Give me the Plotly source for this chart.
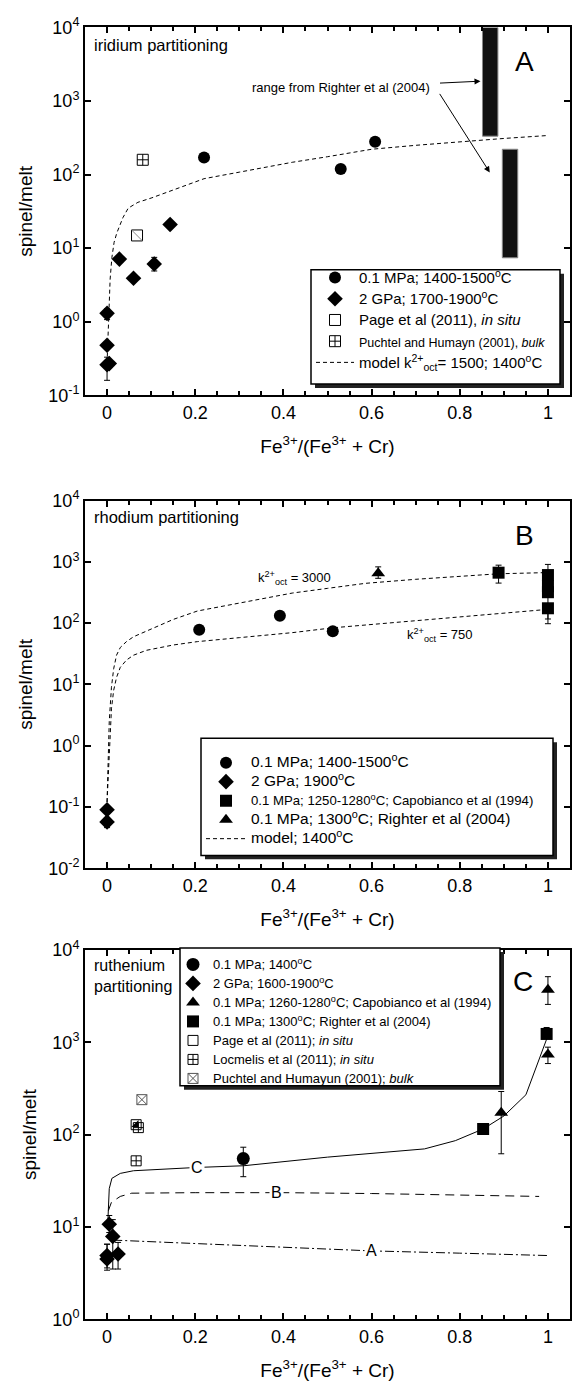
import plotly.graph_objects as go

FONT = "Liberation Sans, Arial, Helvetica, sans-serif"

# ---------------- tick labels ----------------
x_tickvals = [0, 0.2, 0.4, 0.6, 0.8, 1]
x_ticktext = ["0", "0.2", "0.4", "0.6", "0.8", "1"]
yA_tickvals = [0.1, 1, 10, 100, 1000, 10000]
yA_ticktext = ["10<sup>-1</sup>", "10<sup>0</sup>", "10<sup>1</sup>", "10<sup>2</sup>", "10<sup>3</sup>", "10<sup>4</sup>"]
yB_tickvals = [0.01, 0.1, 1, 10, 100, 1000, 10000]
yB_ticktext = ["10<sup>-2</sup>", "10<sup>-1</sup>", "10<sup>0</sup>", "10<sup>1</sup>", "10<sup>2</sup>", "10<sup>3</sup>", "10<sup>4</sup>"]
yC_tickvals = [1, 10, 100, 1000, 10000]
yC_ticktext = ["10<sup>0</sup>", "10<sup>1</sup>", "10<sup>2</sup>", "10<sup>3</sup>", "10<sup>4</sup>"]

# ---------------- Panel A : iridium ----------------
ir_circle_x = [0.22, 0.53, 0.608]
ir_circle_y = [171, 119, 280]

ir_diamond_x = [0.0, 0.0, 0.0, 0.005, 0.028, 0.06, 0.107, 0.143]
ir_diamond_y = [1.3, 0.48, 0.26, 0.27, 7.1, 3.9, 6.1, 21]
ir_diamond_eplus = [0.2, 0, 0.07, 0, 0, 0, 1.4, 0]
ir_diamond_eminus = [0.23, 0, 0.1, 0, 0, 0, 1.2, 0]

ir_page_x = [0.068]
ir_page_y = [14.9]
ir_puchtel_x = [0.081]
ir_puchtel_y = [159]

ir_range_x = [0.869, 0.914]
ir_range_low = [333, 7.4]
ir_range_high = [10000, 221]

ir_model_x = [0.0, 0.002, 0.004, 0.007, 0.011, 0.016, 0.022, 0.036, 0.048, 0.07, 0.1, 0.15, 0.22,
              0.3, 0.42, 0.5, 0.6, 0.7, 0.82, 0.9, 1.0]
ir_model_y = [0.27, 0.7, 1.6, 3.8, 7.5, 12, 16, 26, 35, 42, 48, 62, 88,
              108, 147, 175, 221, 250, 286, 310, 340]

# ---------------- Panel B : rhodium ----------------
rh_circle_x = [0.209, 0.392, 0.512]
rh_circle_y = [78, 132, 74]

rh_diamond_x = [0.0, 0.0]
rh_diamond_y = [0.09, 0.057]
rh_diamond_eplus = [0, 0.006]
rh_diamond_eminus = [0, 0.011]

rh_square_x = [0.888, 1.0, 1.0, 1.0, 1.0]
rh_square_y = [667, 610, 400, 320, 175]
rh_square_eplus = [218, 300, 0, 0, 0]
rh_square_eminus = [216, 0, 0, 222, 58]

rh_tri_x = [0.615]
rh_tri_y = [652]
rh_tri_eplus = [178]
rh_tri_eminus = [112]

rh_model_hi_x = [0.0, 0.002, 0.005, 0.01, 0.015, 0.0215, 0.03, 0.044, 0.06, 0.089, 0.15, 0.205,
                 0.3, 0.42, 0.5, 0.586, 0.7, 0.8, 0.888, 1.0]
rh_model_hi_y = [0.12, 0.5, 2.5, 9, 18, 30, 40, 50, 60, 74, 115, 158,
                 215, 310, 370, 447, 520, 585, 640, 670]
rh_model_lo_x = [0.0, 0.003, 0.006, 0.01, 0.015, 0.0215, 0.03, 0.044, 0.06, 0.089, 0.15, 0.205,
                 0.3, 0.42, 0.512, 0.6, 0.7, 0.8, 0.9, 1.0]
rh_model_lo_y = [0.12, 0.4, 1.5, 4, 8, 13, 19, 25, 30, 36, 44, 50,
                 58, 70, 84, 95, 108, 125, 145, 168]

# ---------------- Panel C : ruthenium ----------------
ru_circle_x = [0.309]
ru_circle_y = [55]
ru_circle_eplus = [18]
ru_circle_eminus = [20]

ru_diamond_x = [0.005, 0.013, 0.0, 0.0, 0.025]
ru_diamond_y = [10.7, 7.9, 4.5, 4.9, 5.1]
ru_diamond_eplus = [2.6, 4.1, 2.0, 1.6, 1.7]
ru_diamond_eminus = [2.0, 4.4, 1.1, 1.3, 1.6]

ru_tri_x = [1.0, 1.0, 0.894]
ru_tri_y = [3710, 735, 172]
ru_tri_eplus = [1420, 150, 121]
ru_tri_eminus = [1140, 147, 110]

ru_square_x = [0.853, 0.997]
ru_square_y = [115, 1230]
ru_square_eplus = [0, 215]
ru_square_eminus = [0, 0]

ru_page_x = [0.066]
ru_page_y = [128]
ru_locmelis_x = [0.071, 0.066]
ru_locmelis_y = [119, 52]
ru_puchtel_x = [0.079]
ru_puchtel_y = [239]

ru_modelC_x = [0.002, 0.003, 0.005, 0.011, 0.03, 0.06, 0.2, 0.31, 0.5, 0.72, 0.79, 0.853, 0.9, 0.95, 0.983, 1.0]
ru_modelC_y = [12, 17, 26, 33.6, 38, 40.6, 44, 46, 57, 70, 86, 115, 159, 270, 722, 1180]
ru_modelB_x = [0.003, 0.01, 0.03, 0.056, 0.2, 0.4, 0.6, 0.8, 0.98]
ru_modelB_y = [15, 18.5, 21.4, 23.2, 23.5, 23.5, 23, 22.3, 21.4]
ru_modelA_x = [0.014, 0.2, 0.4, 0.6, 0.8, 1.0]
ru_modelA_y = [7.2, 6.6, 6.0, 5.5, 5.2, 4.9]

# =====================================================
fig = go.Figure()
K = "black"


def err(plus, minus):
    return dict(type="data", symmetric=False, array=plus, arrayminus=minus,
                color=K, thickness=1, width=3)


def sz(text, px):
    return "<span style='font-size:%spx'>%s</span>" % (px, text)


# ---- Panel A traces ----
fig.add_trace(go.Bar(x=ir_range_x, y=[h - l for h, l in zip(ir_range_high, ir_range_low)],
                     base=ir_range_low, width=0.035, xaxis="x", yaxis="y", showlegend=False,
                     marker=dict(color="#111", line=dict(color="#888", width=1))))
fig.add_trace(go.Scatter(x=ir_model_x, y=ir_model_y, mode="lines", xaxis="x", yaxis="y",
                         line=dict(color=K, width=1, dash="4px,3px"), showlegend=False))
fig.add_trace(go.Scatter(x=ir_circle_x, y=ir_circle_y, mode="markers", xaxis="x", yaxis="y",
                         marker=dict(symbol="circle", size=12, color=K),
                         name=sz("0.1 MPa; 1400-1500<sup>o</sup>C", 15), legend="legend"))
fig.add_trace(go.Scatter(x=ir_diamond_x, y=ir_diamond_y, mode="markers", xaxis="x", yaxis="y",
                         marker=dict(symbol="diamond", size=12, color=K),
                         error_y=err(ir_diamond_eplus, ir_diamond_eminus),
                         name=sz("2 GPa; 1700-1900<sup>o</sup>C", 15), legend="legend"))
fig.add_trace(go.Scatter(x=ir_page_x, y=ir_page_y, mode="markers", xaxis="x", yaxis="y",
                         marker=dict(symbol="square-open", size=11, color=K, line=dict(width=1)),
                         name=sz("Page et al (2011), <i>in situ</i>", 15), legend="legend"))
fig.add_trace(go.Scatter(x=ir_page_x, y=ir_page_y, mode="markers", xaxis="x", yaxis="y",
                         marker=dict(symbol="line-nw", size=10, color="#888", line=dict(width=1, color="#888")),
                         showlegend=False))
fig.add_trace(go.Scatter(x=ir_puchtel_x, y=ir_puchtel_y, mode="markers", xaxis="x", yaxis="y",
                         marker=dict(symbol="square-cross-open", size=11, color=K, line=dict(width=1)),
                         name=sz("Puchtel and Humayn (2001), <i>bulk</i>", 12.5),
                         legend="legend"))
fig.add_trace(go.Scatter(x=[None], y=[None], mode="lines", xaxis="x", yaxis="y",
                         line=dict(color=K, width=1, dash="4px,3px"),
                         name=sz("model k<sup>2+</sup><sub>oct</sub>= 1500; 1400<sup>o</sup>C", 15), legend="legend"))

# ---- Panel B traces ----
fig.add_trace(go.Scatter(x=rh_model_hi_x, y=rh_model_hi_y, mode="lines", xaxis="x2", yaxis="y2",
                         line=dict(color=K, width=1, dash="4px,3px"), showlegend=False))
fig.add_trace(go.Scatter(x=rh_model_lo_x, y=rh_model_lo_y, mode="lines", xaxis="x2", yaxis="y2",
                         line=dict(color=K, width=1, dash="4px,3px"), showlegend=False))
fig.add_trace(go.Scatter(x=rh_circle_x, y=rh_circle_y, mode="markers", xaxis="x2", yaxis="y2",
                         marker=dict(symbol="circle", size=12, color=K),
                         name=sz("0.1 MPa; 1400-1500<sup>o</sup>C", 15.5), legend="legend2"))
fig.add_trace(go.Scatter(x=rh_diamond_x, y=rh_diamond_y, mode="markers", xaxis="x2", yaxis="y2",
                         marker=dict(symbol="diamond", size=12, color=K),
                         error_y=err(rh_diamond_eplus, rh_diamond_eminus),
                         name=sz("2 GPa; 1900<sup>o</sup>C", 15.5), legend="legend2"))
fig.add_trace(go.Scatter(x=rh_square_x, y=rh_square_y, mode="markers", xaxis="x2", yaxis="y2",
                         marker=dict(symbol="square", size=12, color=K),
                         error_y=err(rh_square_eplus, rh_square_eminus),
                         name=sz("0.1 MPa; 1250-1280<sup>o</sup>C; Capobianco et al (1994)", 13.2),
                         legend="legend2"))
fig.add_trace(go.Scatter(x=rh_tri_x, y=rh_tri_y, mode="markers", xaxis="x2", yaxis="y2",
                         marker=dict(symbol="triangle-up", size=12, color=K),
                         error_y=err(rh_tri_eplus, rh_tri_eminus),
                         name=sz("0.1 MPa; 1300<sup>o</sup>C; Righter et al (2004)", 15.5), legend="legend2"))
fig.add_trace(go.Scatter(x=[None], y=[None], mode="lines", xaxis="x2", yaxis="y2",
                         line=dict(color=K, width=1, dash="4px,3px"),
                         name=sz("model; 1400<sup>o</sup>C", 15.5), legend="legend2"))

# ---- Panel C traces ----
fig.add_trace(go.Scatter(x=ru_modelC_x, y=ru_modelC_y, mode="lines", xaxis="x3", yaxis="y3",
                         line=dict(color=K, width=1), showlegend=False))
fig.add_trace(go.Scatter(x=ru_modelB_x, y=ru_modelB_y, mode="lines", xaxis="x3", yaxis="y3",
                         line=dict(color=K, width=1, dash="9px,6px"), showlegend=False))
fig.add_trace(go.Scatter(x=ru_modelA_x, y=ru_modelA_y, mode="lines", xaxis="x3", yaxis="y3",
                         line=dict(color=K, width=1, dash="9px,3px,2px,3px"), showlegend=False))
fig.add_trace(go.Scatter(x=ru_circle_x, y=ru_circle_y, mode="markers", xaxis="x3", yaxis="y3",
                         marker=dict(symbol="circle", size=13, color=K),
                         error_y=err(ru_circle_eplus, ru_circle_eminus),
                         name=sz("0.1 MPa; 1400<sup>o</sup>C", 13), legend="legend3"))
fig.add_trace(go.Scatter(x=ru_diamond_x, y=ru_diamond_y, mode="markers", xaxis="x3", yaxis="y3",
                         marker=dict(symbol="diamond", size=12, color=K),
                         error_y=err(ru_diamond_eplus, ru_diamond_eminus),
                         name=sz("2 GPa; 1600-1900<sup>o</sup>C", 13), legend="legend3"))
fig.add_trace(go.Scatter(x=ru_tri_x, y=ru_tri_y, mode="markers", xaxis="x3", yaxis="y3",
                         marker=dict(symbol="triangle-up", size=12, color=K),
                         error_y=err(ru_tri_eplus, ru_tri_eminus),
                         name=sz("0.1 MPa; 1260-1280<sup>o</sup>C; Capobianco et al (1994)", 13), legend="legend3"))
fig.add_trace(go.Scatter(x=ru_square_x, y=ru_square_y, mode="markers", xaxis="x3", yaxis="y3",
                         marker=dict(symbol="square", size=12, color=K),
                         error_y=err(ru_square_eplus, ru_square_eminus),
                         name=sz("0.1 MPa; 1300<sup>o</sup>C; Righter et al (2004)", 13), legend="legend3"))
fig.add_trace(go.Scatter(x=ru_page_x, y=ru_page_y, mode="markers", xaxis="x3", yaxis="y3",
                         marker=dict(symbol="square-open", size=10, color=K, line=dict(width=1)),
                         name=sz("Page et al (2011); <i>in situ</i>", 13), legend="legend3"))
fig.add_trace(go.Scatter(x=ru_page_x, y=ru_page_y, mode="markers", xaxis="x3", yaxis="y3",
                         marker=dict(symbol="triangle-se", size=8, color=K, line=dict(width=0)),
                         showlegend=False))
fig.add_trace(go.Scatter(x=ru_locmelis_x, y=ru_locmelis_y, mode="markers", xaxis="x3", yaxis="y3",
                         marker=dict(symbol="square-cross-open", size=10, color=K, line=dict(width=1)),
                         name=sz("Locmelis et al (2011); <i>in situ</i>", 13), legend="legend3"))
fig.add_trace(go.Scatter(x=ru_puchtel_x, y=ru_puchtel_y, mode="markers", xaxis="x3", yaxis="y3",
                         marker=dict(symbol="square-x-open", size=10, color="#555", line=dict(width=1)),
                         name=sz("Puchtel and Humayun (2001); <i>bulk</i>", 13), legend="legend3"))

# =====================================================
XTITLE = "Fe<sup>3+</sup>/(Fe<sup>3+</sup> + Cr)"


def xaxis(anchor):
    return dict(anchor=anchor, domain=[0, 1], range=[-0.05, 1.05],
                tickmode="array", tickvals=x_tickvals, ticktext=x_ticktext,
                ticks="inside", ticklen=6, tickwidth=2, tickcolor=K,
                showline=True, linewidth=2, linecolor=K, mirror="ticks",
                showgrid=False, zeroline=False,
                minor=dict(dtick=0.05, tick0=0, ticks="inside", ticklen=4, tickwidth=1.5, tickcolor=K,
                           showgrid=False),
                tickfont=dict(size=18, family=FONT, color=K),
                title=dict(text=XTITLE, font=dict(size=19, family=FONT, color=K), standoff=18))


def yaxis(anchor, domain, rng, tv, tt):
    return dict(anchor=anchor, domain=domain, type="log", range=rng,
                tickmode="array", tickvals=tv, ticktext=tt,
                ticks="inside", ticklen=6, tickwidth=2, tickcolor=K,
                showline=True, linewidth=2, linecolor=K, mirror="ticks",
                showgrid=False, zeroline=False,
                tickfont=dict(size=18, family=FONT, color=K),
                title=dict(text="spinel/melt", font=dict(size=19, family=FONT, color=K), standoff=11))


H = 1390.0
L, R = 85.0, 3.0
PW = 573.0 - L - R
domA = [1 - 389.5 / H, 1 - 15.7 / H]
domB = [1 - 870.0 / H, 1 - 496.5 / H]
domC = [1 - 1328.3 / H, 1 - 953.0 / H]


def px(x):
    return (x - L) / PW


def py(y):
    return 1 - y / H


# legend frames (pixel boxes: left, top, right, bottom)
boxA = (311, 262, 560, 378)
boxB = (201, 738, 553, 857)
boxC = (180, 951, 500, 1091)

shapes = []
for (x0, y0, x1, y1) in (boxA, boxB, boxC):
    shapes.append(dict(type="rect", xref="paper", yref="paper", layer="above",
                       x0=px(x0 + 4), x1=px(x1 + 4), y0=py(y0 + 4), y1=py(y1 + 4),
                       fillcolor="#222", line=dict(width=0)))
    shapes.append(dict(type="rect", xref="paper", yref="paper", layer="above",
                       x0=px(x0), x1=px(x1), y0=py(y0), y1=py(y1),
                       fillcolor="white", line=dict(color=K, width=1.5)))


def leg(box, fsize, iw, dx, dy):
    return dict(x=px(box[0] + dx), y=py(box[1] + dy), xanchor="left", yanchor="top",
                bgcolor="rgba(0,0,0,0)", borderwidth=0, itemwidth=iw,
                font=dict(family=FONT, size=fsize, color=K))


fig.update_layout(
    width=573, height=1390,
    margin=dict(l=L, r=R, t=0, b=0),
    paper_bgcolor="white", plot_bgcolor="white",
    font=dict(family=FONT, color=K),
    barmode="overlay",
    xaxis=xaxis("y"), yaxis=yaxis("x", domA, [-1, 4], yA_tickvals, yA_ticktext),
    xaxis2=xaxis("y2"), yaxis2=yaxis("x2", domB, [-2, 4], yB_tickvals, yB_ticktext),
    xaxis3=xaxis("y3"), yaxis3=yaxis("x3", domC, [0, 4], yC_tickvals, yC_ticktext),
    legend=leg(boxA, 14, 38, 0, -8),
    legend2=leg(boxB, 12, 40, 0, 10),
    legend3=leg(boxC, 12, 30, -7, 2),
    showlegend=True,
    shapes=shapes,
)

ann = []
# panel A
ann.append(dict(xref="x", yref="y", x=-0.035, y=3.764, text="iridium partitioning", showarrow=False,
                xanchor="left", font=dict(size=16.5, family=FONT, color=K)))
ann.append(dict(xref="x", yref="y", x=0.946, y=3.54, text="A", showarrow=False,
                font=dict(size=28, family=FONT, color=K)))
ann.append(dict(xref="x", yref="y", x=0.53, y=3.19, text="range from Righter et al (2004)", showarrow=False,
                font=dict(size=13, family=FONT, color=K)))
ann.append(dict(xref="x", yref="y", x=0.847, y=3.27, text="", showarrow=True, ax=-42, ay=2,
                arrowhead=2, arrowsize=1.2, arrowwidth=1, arrowcolor=K, standoff=0))
ann.append(dict(xref="x", yref="y", x=0.868, y=2.03, text="", showarrow=True, ax=-51, ay=-80,
                arrowhead=2, arrowsize=1.2, arrowwidth=1, arrowcolor=K, standoff=0))
# panel B
ann.append(dict(xref="x2", yref="y2", x=-0.035, y=3.74, text="rhodium partitioning", showarrow=False,
                xanchor="left", font=dict(size=16.5, family=FONT, color=K)))
ann.append(dict(xref="x2", yref="y2", x=0.946, y=3.434, text="B", showarrow=False,
                font=dict(size=28, family=FONT, color=K)))
ann.append(dict(xref="x2", yref="y2", x=0.425, y=2.73, text="k<sup>2+</sup><sub>oct</sub> = 3000", showarrow=False,
                font=dict(size=13, family=FONT, color=K)))
ann.append(dict(xref="x2", yref="y2", x=0.756, y=1.80, text="k<sup>2+</sup><sub>oct</sub> = 750", showarrow=False,
                font=dict(size=13, family=FONT, color=K)))
# panel C
ann.append(dict(xref="x3", yref="y3", x=-0.035, y=3.72, text="ruthenium<br>partitioning", showarrow=False,
                xanchor="left", align="left", font=dict(size=16, family=FONT, color=K)))
ann.append(dict(xref="x3", yref="y3", x=0.944, y=3.66, text="C", showarrow=False,
                font=dict(size=28, family=FONT, color=K)))
ann.append(dict(xref="x3", yref="y3", x=0.205, y=1.643, text="C", showarrow=False, bgcolor="white",
                font=dict(size=16, family=FONT, color=K)))
ann.append(dict(xref="x3", yref="y3", x=0.385, y=1.37, text="B", showarrow=False, bgcolor="white",
                font=dict(size=16, family=FONT, color=K)))
ann.append(dict(xref="x3", yref="y3", x=0.6, y=0.744, text="A", showarrow=False, bgcolor="white",
                font=dict(size=16, family=FONT, color=K)))
fig.update_layout(annotations=ann)

fig.write_html("out.html")
